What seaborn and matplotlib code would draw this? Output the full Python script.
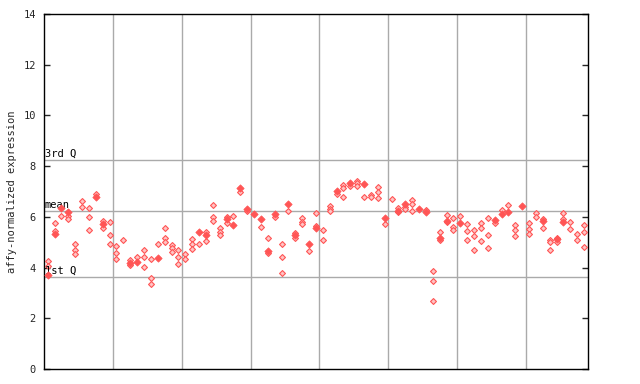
import matplotlib
matplotlib.use("Agg")
import matplotlib.pyplot as plt
import seaborn as sns
import pandas as pd

# replicate values per sample (open markers) and highlighted value (filled marker)
hollow = [
    [4.25, 4.05], [5.74, 5.43], [6.03], [6.05, 5.91], [4.92, 4.69, 4.53],
    [6.61, 6.39], [6.34, 5.98, 5.47], [6.89], [5.84, 5.57], [5.80, 5.27, 4.92],
    [4.85, 4.56, 4.32], [5.07], [4.30, 4.11], [4.40], [4.69, 4.43, 4.01],
    [4.33, 3.58, 3.36], [4.92], [5.55, 5.15, 5.01], [4.89, 4.78, 4.61], [4.69, 4.40, 4.16],
    [4.52, 4.35], [5.13, 4.92, 4.72], [4.95], [5.42, 5.04], [6.45, 6.00, 5.85],
    [5.57, 5.42, 5.30], [6.00, 5.77], [6.02], [6.97], [6.22],
    [], [5.59], [5.15, 4.56], [5.98], [4.95, 4.43, 3.77],
    [6.22], [5.38, 5.15], [5.94, 5.81, 5.70], [4.65], [6.15, 5.64],
    [5.47, 5.07], [6.43, 6.32, 6.23], [6.91], [7.24, 7.14, 6.77], [7.23],
    [7.43, 7.33, 7.20], [6.77], [6.86, 6.77], [7.18, 6.99, 6.73], [5.70],
    [6.69], [6.34, 6.18], [6.40, 6.31], [6.66, 6.51, 6.24], [],
    [6.28], [3.85, 3.46, 2.67], [5.40, 5.07], [6.07, 5.78], [5.94, 5.59, 5.49],
    [6.02], [5.70, 5.43, 5.07], [5.47, 5.23, 4.68], [5.74, 5.55, 5.04], [5.94, 5.27, 4.76],
    [5.74], [6.26], [6.47], [5.68, 5.47, 5.23], [],
    [5.74, 5.51, 5.31], [6.15, 5.98], [5.93, 5.57], [5.09, 5.00, 4.68], [5.18, 5.00],
    [6.15, 5.91], [5.78, 5.51], [5.32, 5.07], [5.66, 5.40, 4.80],
]
solid = [
    3.70, 5.32, 6.36, 6.18, None, None, None, 6.78, 5.70, None,
    None, None, 4.19, 4.23, None, None, 4.39, None, None, None,
    None, None, 5.42, 5.30, None, None, 5.90, 5.69, 7.12, 6.31,
    6.12, 5.93, 4.67, 6.10, None, 6.52, 5.28, None, 4.94, 5.55,
    None, None, 7.03, None, 7.35, None, 7.31, None, None, 5.97,
    None, 6.24, 6.52, None, 6.31, 6.18, None, 5.18, 5.85, None,
    5.77, None, None, None, None, 5.88, 6.12, 6.19, None, 6.44,
    None, None, 5.84, None, 5.13, 5.78, None, None, None,
]
q1, mean_val, q3 = 3.63, 6.23, 8.23
stat_labels = ["1st Q", "mean", "3rd Q"]
y_ticks = [0, 2, 4, 6, 8, 10, 12, 14]

rows = []
for i, vals in enumerate(hollow):
    for v in vals:
        rows.append({"sample": i, "expr": v, "kind": "rep"})
for i, v in enumerate(solid):
    if v is not None:
        rows.append({"sample": i, "expr": v, "kind": "sel"})
df = pd.DataFrame(rows)
n = len(hollow)

sns.set_style("white")
plt.rcParams["font.family"] = ["DejaVu Sans Mono", "DejaVu Sans"]

red = "#ff5555"
fig = plt.figure(figsize=(6.4, 3.84), dpi=100)
ax = fig.add_axes([0.0692, 0.039, 0.8488, 0.9245])

# grid lines
for k in range(10, n, 10):
    ax.axvline(k - 0.5, color="#aaaaaa", lw=1, zorder=0)
for q in (q1, mean_val, q3):
    ax.axhline(q, color="#aaaaaa", lw=1, zorder=0)

sns.scatterplot(data=df[df["kind"] == "rep"], x="sample", y="expr", marker="D",
                s=9, facecolor="#ffc4c4", edgecolor=red, linewidth=0.8, ax=ax, zorder=3)
sns.scatterplot(data=df[df["kind"] == "sel"], x="sample", y="expr", marker="D",
                s=14, color=red, edgecolor=red, linewidth=0.5, ax=ax, zorder=4)

for lab, q in zip(stat_labels, (q1, mean_val, q3)):
    ax.text(-0.45, q + 0.05, lab, fontsize=7.5, va="bottom", ha="left", color="black")

ax.set_xlim(-0.5, n - 0.5)
ax.set_ylim(0, 14)
ax.set_yticks(y_ticks)
ax.set_yticklabels([str(t) for t in y_ticks], fontsize=7.5)
ax.set_xticks([])
ax.tick_params(axis="y", direction="in", length=4, width=1, left=True, right=True, pad=6)
ax.set_xlabel("")
ax.set_ylabel("affy-normalized expression", fontsize=7.5, labelpad=5)
for sp in ax.spines.values():
    sp.set_color("black")
    sp.set_linewidth(1)

fig.savefig("out.png", dpi=100)
